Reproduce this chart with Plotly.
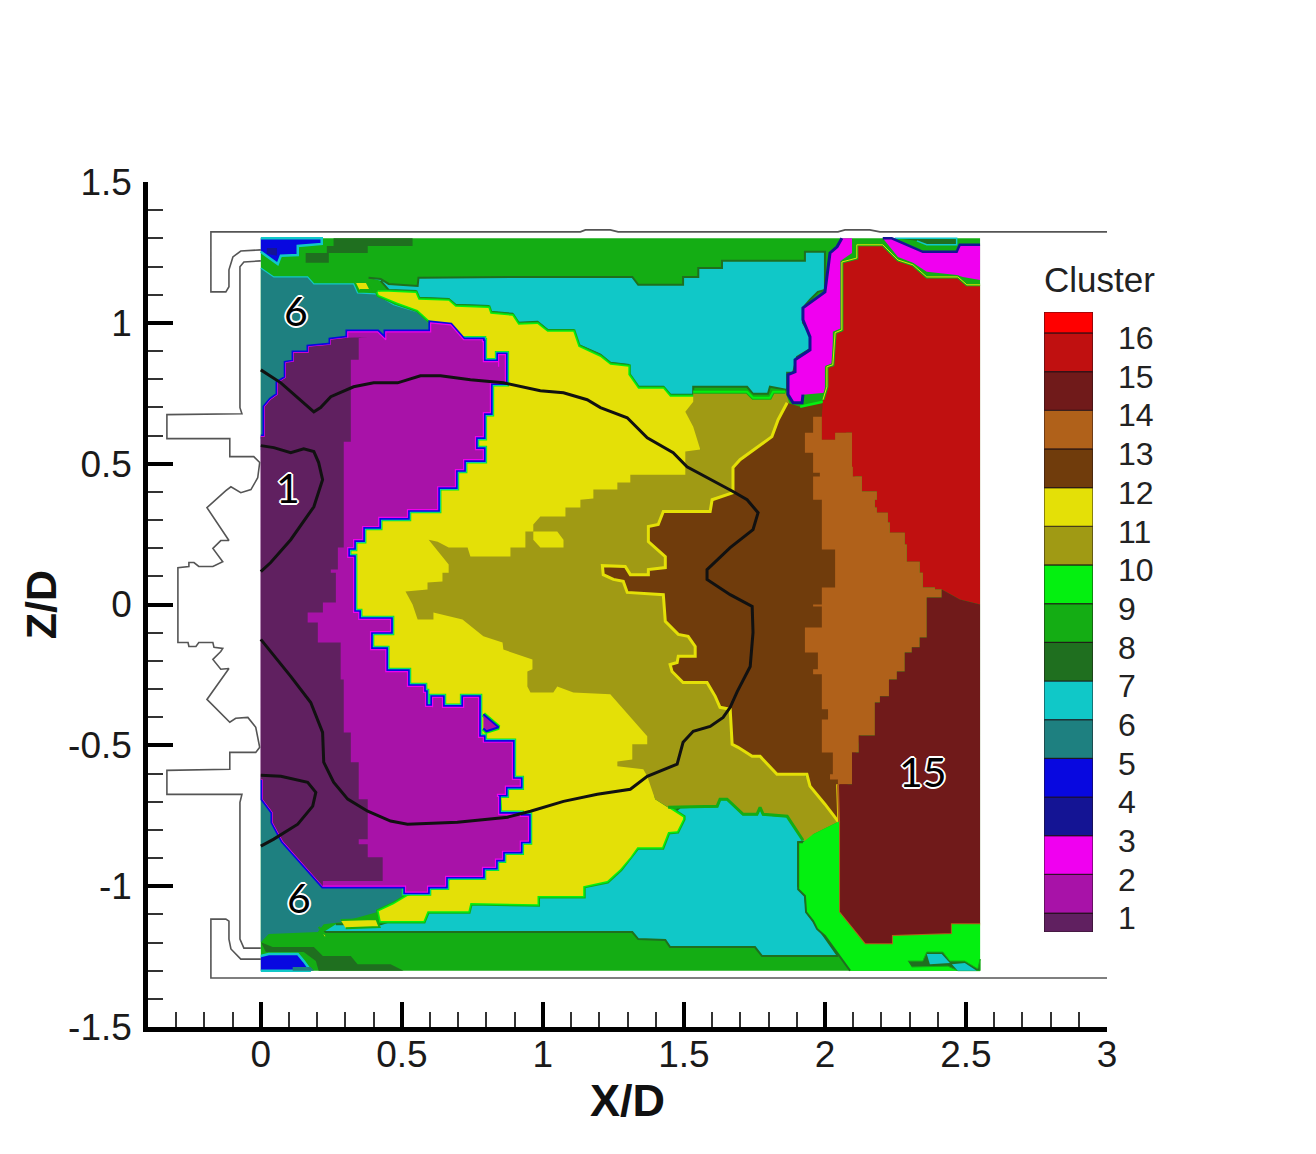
import plotly.graph_objects as go

FONT = "Liberation Sans"

# cluster legend
cluster_labels = [str(i) for i in range(1, 17)]
cluster_levels = list(range(1, 17))
cluster_edges = [0.64, 1.13, 2.13, 3.13, 4.13, 5.13, 6.13, 7.13, 8.13, 9.13, 10.13, 11.13, 12.13, 13.13, 14.13, 15.13,
                 16.13, 16.67]
cluster_colors = ["#602060", "#a812a8", "#f000f0", "#141494", "#0808e0", "#1e8080", "#10c8c8", "#1f6f1f", "#14ad14",
                  "#04f010", "#a09a14", "#e4e007", "#703c0c", "#b0611a", "#701a1a", "#c01010", "#ff0000"]
C1, C2, C3, C4, C5, C6, C7, C8, C9, C10, C11, C12, C13, C14, C15, C16, C17 = cluster_colors

# measurement window
window = [(0, -1.3), (2.55, -1.3), (2.55, 1.3), (0, 1.3)]

# dark green and blue patches near the walls
c8_top = [(.258, 1.3), (.538, 1.3), (.538, 1.273), (.379, 1.273), (.379, 1.248), (.241, 1.248), (.241, 1.213),
          (.159, 1.213), (.159, 1.248), (.234, 1.248), (.234, 1.273), (.258, 1.273)]
c8_bottom = [(0, -1.199), (.042, -1.216), (.188, -1.216), (.22, -1.248), (.319, -1.248), (.343, -1.277), (.46, -1.277),
             (.506, -1.3), (.205, -1.3), (.195, -1.266), (.152, -1.234), (.018, -1.234)]
c8_top_right = [(2.248, 1.3), (2.467, 1.3), (2.467, 1.277), (2.361, 1.277), (2.326, 1.291)]
c8_corner = [(2.294, -1.266), (2.347, -1.266), (2.361, -1.234), (2.418, -1.234), (2.443, -1.266), (2.496, -1.266),
             (2.542, -1.294), (2.55, -1.259), (2.55, -1.3), (2.471, -1.3), (2.436, -1.284), (2.308, -1.287)]
c5_top = [(0, 1.3), (.216, 1.3), (.216, 1.28), (.131, 1.273), (.131, 1.241), (.071, 1.238), (.06, 1.209), (0, 1.252)]
c4_top = [(.021, 1.266), (.057, 1.266), (.057, 1.238), (.021, 1.245)]
c5_bottom = [(0, -1.248), (.028, -1.241), (.131, -1.241), (.152, -1.266), (.177, -1.3), (0, -1.3)]
c6_bottom_bit = [(.113, -1.287), (.177, -1.287), (.188, -1.3), (.113, -1.3)]

c6_top = [(0, 1.195), (.046, 1.163), (.166, 1.163), (.188, 1.138), (.329, 1.138), (.343, 1.106), (.407, 1.103),
          (.471, 1.064), (.556, 1.039), (.612, .986), (.637, .94), (.637, .55), (0, .55)]
c6_bottom = [(0, -.621), (.496, -.621), (.52, -1.028), (.471, -1.064), (.414, -1.092), (.283, -1.128), (.223, -1.135),
             (.202, -1.163), (.028, -1.17), (0, -1.199)]

c7_top = [(.382, 1.16), (.425, 1.156), (.453, 1.138), (.556, 1.131), (.559, 1.16), (.956, 1.163), (1.317, 1.163),
          (1.338, 1.135), (1.497, 1.135), (1.497, 1.163), (1.551, 1.163), (1.551, 1.195), (1.635, 1.195), (1.635, 1.22),
          (1.929, 1.22), (1.929, 1.252), (2.0, 1.252), (2.0, 1.117), (1.975, 1.11), (1.947, 1.082), (1.922, 1.053),
          (1.922, 1.0), (1.954, .95), (1.954, .911), (1.901, .879), (1.887, .823), (1.866, .823), (1.866, .762),
          (1.805, .773), (1.798, .748), (1.745, .748), (1.724, .773), (1.533, .773), (1.533, .745), (1.451, .745),
          (1.427, .773), (1.338, .773), (1.303, .823), (1.303, .851), (1.239, .858), (1.204, .887), (1.126, .922),
          (1.108, .975), (1.016, .975), (.981, 1.004), (.913, 1.0), (.892, 1.032), (.814, 1.039), (.807, 1.06),
          (.69, 1.064), (.666, 1.085), (.559, 1.089), (.549, 1.113), (.453, 1.117), (.425, 1.149)]
c7_bottom = [(.223, -1.163), (1.317, -1.163), (1.338, -1.188), (1.434, -1.191), (1.451, -1.216), (1.752, -1.216),
             (1.777, -1.248), (2.046, -1.248), (1.972, -1.142), (1.936, -1.092), (1.929, -1.028), (1.905, -1.0),
             (1.905, -.844), (1.94, -.84), (1.866, -.752), (1.781, -.745), (1.77, -.72), (1.759, -.745), (1.71, -.745),
             (1.653, -.691), (1.628, -.691), (1.618, -.716), (1.487, -.72), (1.345, -.833), (.991, -1.011),
             (.566, -1.089), (.425, -1.135), (.266, -1.135)]
c7_corner_a = [(2.361, -1.241), (2.414, -1.241), (2.443, -1.273), (2.372, -1.277)]
c7_corner_b = [(2.45, -1.277), (2.496, -1.273), (2.538, -1.3), (2.471, -1.3)]

# yellow band, split so only its visible edges get a stroke
c12_upper = [(.414, 1.11), (.453, 1.11), (.549, 1.106), (.559, 1.082), (.666, 1.078), (.69, 1.057), (.807, 1.053),
             (.814, 1.032), (.892, 1.025), (.913, .993), (.981, .996), (1.016, .968), (1.108, .968), (1.126, .915),
             (1.204, .879), (1.239, .851), (1.303, .844), (1.303, .816), (1.338, .766), (1.427, .766), (1.451, .738),
             (1.558, .738)]
c12_hidden_right = [(1.558, .55), (1.628, .018), (1.558, -.337), (1.374, -.585), (1.398, -.691)]
c12_lower = [(1.444, -.72), (1.497, -.755), (1.497, -.762), (1.476, -.805), (1.444, -.808), (1.423, -.862),
             (1.335, -.862), (1.31, -.897), (1.274, -.94), (1.228, -.982), (1.143, -1.0), (1.143, -1.035), (.981, -1.035),
             (.981, -1.064), (.743, -1.06), (.736, -1.089), (.591, -1.089), (.577, -1.124), (.425, -1.124),
             (.418, -1.089), (.471, -1.064), (.52, -1.035), (.602, -1.011), (.655, -.993)]
c12_hidden_left = [(.779, -.869), (.6, -.6), (.3, -.16), (.28, .195), (.673, .727)]
c12_tip = [(.789, .862), (.786, .933), (.719, .94), (.68, .986), (.602, 1.004), (.556, 1.046), (.485, 1.071),
           (.418, 1.099), (.414, 1.11)]
c12_blob_mid = [(.966, .259), (1.051, .259), (1.073, .23), (1.073, .202), (.991, .202), (.966, .23)]
c12_blob_a = [(.283, -1.12), (.41, -1.117), (.421, -1.145), (.301, -1.149)]
c12_blob_b = [(.205, -1.145), (.237, -1.181), (.223, -1.181), (.212, -1.155)]
c12_blob_c = [(.336, 1.145), (.375, 1.145), (.389, 1.117), (.35, 1.117)]

c11_left_top = [(.513, .046), (.591, .053), (.591, .078), (.644, .082), (.644, .113), (.666, .113), (.666, .142),
                (.595, .23), (.627, .223), (.666, .202), (.733, .202), (.743, .17), (.885, .17), (.885, .202),
                (.938, .202), (.938, .259), (.966, .259), (.966, .284), (.991, .312), (1.08, .312), (1.08, .344),
                (1.133, .344), (1.133, .372), (1.179, .376), (1.179, .408), (1.264, .408), (1.264, .433), (1.31, .433),
                (1.31, .461), (1.505, .461), (1.505, .543), (1.558, .55), (1.533, .631), (1.505, .684), (1.533, .72)]
c11_top = [(1.533, .755), (1.724, .755), (1.745, .734), (1.805, .734), (1.816, .755), (1.859, .755)]
c11_hidden = [(1.876, .709), (1.841, .372), (1.77, .018), (1.735, -.337), (1.912, -.585)]
c11_bottom = [(2.053, -.769), (1.958, -.816), (1.94, -.844), (1.922, -.837), (1.866, -.752), (1.781, -.745), (1.77, -.72),
              (1.759, -.745), (1.71, -.745), (1.653, -.691), (1.628, -.691), (1.618, -.716), (1.487, -.72), (1.444, -.72)]
c11_left_bottom = [(1.398, -.691), (1.37, -.61), (1.356, -.585), (1.264, -.574), (1.264, -.557), (1.317, -.55),
                   (1.317, -.496), (1.37, -.496), (1.37, -.468), (1.239, -.319), (1.108, -.312), (1.051, -.291),
                   (1.037, -.312), (.956, -.312), (.945, -.291), (.945, -.238), (.963, -.23), (.963, -.195), (.86, -.16),
                   (.857, -.135), (.789, -.113), (.715, -.053), (.612, -.028), (.612, -.053), (.556, -.053), (.538, 0)]

c13_edge = [(1.866, .716), (1.834, .656), (1.812, .596), (1.781, .574), (1.735, .539), (1.699, .514), (1.674, .486),
            (1.674, .397), (1.6, .372), (1.593, .33), (1.427, .33), (1.409, .284), (1.374, .277), (1.374, .223),
            (1.434, .17), (1.434, .131), (1.374, .124), (1.374, .106), (1.31, .106), (1.292, .135), (1.211, .138),
            (1.214, .106), (1.25, .089), (1.285, .082), (1.299, .043), (1.427, .035), (1.434, -.06), (1.48, -.106),
            (1.515, -.113), (1.54, -.149), (1.54, -.184), (1.48, -.184), (1.476, -.206), (1.451, -.213), (1.458, -.238),
            (1.497, -.277), (1.582, -.277), (1.611, -.326), (1.628, -.365), (1.664, -.372), (1.671, -.496), (1.692, -.507),
            (1.742, -.539), (1.77, -.539), (1.83, -.603), (1.936, -.603), (1.947, -.645), (2.0, -.709), (2.046, -.769)]
c13_right = [(2.159, -.337), (2.124, .372), (2.053, .716), (1.993, .72), (1.912, .702)]

c3_right = [(2.06, 1.3), (2.096, 1.3), (2.096, 1.248), (2.06, 1.223), (2.06, .982), (2.028, .968), (2.028, .858),
            (2.0, .844), (2.0, .752), (1.922, .745), (1.919, .716), (1.887, .716), (1.869, .745), (1.869, .816),
            (1.894, .826), (1.894, .869), (1.947, .904), (1.947, .95), (1.922, 1.011), (1.922, 1.053), (2.0, 1.11),
            (2.018, 1.248), (2.043, 1.27)]
c3_top = [(2.205, 1.3), (2.237, 1.3), (2.347, 1.252), (2.467, 1.252), (2.478, 1.277), (2.55, 1.277), (2.55, 1.152),
          (2.489, 1.163), (2.467, 1.17), (2.361, 1.181), (2.312, 1.213), (2.259, 1.234)]

# deep red, orange and maroon regions on the right
c16_top = [(2.113, 1.277), (2.205, 1.277), (2.259, 1.223), (2.312, 1.206), (2.361, 1.163), (2.471, 1.163), (2.503, 1.135),
           (2.55, 1.135)]
c16_lower = [(2.55, 0), (2.478, .018), (2.414, .053), (2.39, .06), (2.347, .113), (2.336, .152), (2.29, .213),
             (2.283, .255), (2.23, .291), (2.223, .326), (2.184, .344), (2.177, .372), (2.184, .401), (2.131, .418),
             (2.131, .454), (2.099, .489), (2.096, .61), (2.036, .61), (2.036, .585), (2.011, .585), (1.989, .61),
             (1.989, .667)]
c16_left = [(1.993, .727), (2.007, .773), (2.007, .844), (2.028, .851), (2.036, .965), (2.06, .975), (2.06, 1.216),
            (2.113, 1.23)]
c14_left = [(1.989, .667), (1.958, .61), (1.929, .596), (1.929, .539), (1.958, .489), (1.958, .468), (1.982, .454),
            (1.958, .436), (1.958, .372), (1.989, .326), (1.989, .195), (2.036, .152), (2.036, .06), (1.989, .053),
            (1.989, 0), (1.958, -.007), (1.989, -.082), (1.929, -.096), (1.929, -.17), (1.975, -.23), (1.958, -.248),
            (1.989, -.326), (1.989, -.372), (2.011, -.379), (2.011, -.408), (1.989, -.415), (1.989, -.525), (2.028, -.603),
            (2.018, -.621), (2.046, -.667)]
c14_right = [(2.046, -.638), (2.096, -.631), (2.096, -.525), (2.12, -.521), (2.12, -.465), (2.177, -.465), (2.177, -.348),
             (2.195, -.326), (2.227, -.319), (2.227, -.266), (2.255, -.238), (2.283, -.234), (2.283, -.17), (2.308, -.152),
             (2.336, -.117), (2.361, -.113), (2.361, .025), (2.414, .028)]
c15_lower = [(2.55, -1.135), (2.45, -1.135), (2.45, -1.17), (2.241, -1.177), (2.241, -1.206), (2.142, -1.206),
             (2.05, -1.092), (2.05, -.769), (2.046, -.638)]
c15_upper = [(2.414, .053), (2.478, .018), (2.55, 0)]

c10_left = [(2.053, -.769), (1.958, -.816), (1.922, -.844), (1.905, -.844), (1.905, -1.011), (1.929, -1.035), (1.933, -1.092),
            (1.958, -1.124), (1.972, -1.152), (2.0, -1.177), (2.089, -1.3)]
c10_right = [(2.55, -1.3), (2.55, -1.135), (2.45, -1.135), (2.45, -1.17), (2.241, -1.177), (2.241, -1.206), (2.142, -1.206),
             (2.05, -1.092), (2.05, -.769)]

# purple core, outline split by what it faces
c2_top = [(0, .596), (.014, .596), (.014, .702), (.035, .727), (.06, .745), (.06, .787), (.089, .805), (.089, .858),
          (.117, .862), (.117, .894), (.17, .894), (.17, .915), (.248, .922), (.248, .94), (.308, .947), (.308, .968),
          (.414, .968), (.443, .94), (.443, .968), (.602, .968), (.602, 1.0), (.673, .993), (.719, .94)]
c2_right = [(.719, .94), (.786, .933), (.789, .862), (.843, .844), (.843, .887), (.867, .869), (.867, .787), (.814, .738),
            (.814, .681), (.789, .645), (.789, .596), (.761, .596), (.761, .55), (.789, .514), (.719, .479), (.69, .418),
            (.627, .372), (.627, .337), (.52, .337), (.52, .309), (.418, .301), (.418, .277), (.361, .277), (.361, .23),
            (.329, .223), (.329, .202), (.308, .188), (.308, .167), (.329, .131), (.329, -.028), (.347, -.053), (.4, -.053),
            (.46, -.082), (.46, -.096), (.389, -.096), (.389, -.16), (.443, -.167), (.443, -.238), (.52, -.259), (.52, -.291),
            (.577, -.312), (.584, -.362), (.609, -.365), (.609, -.33), (.644, -.365), (.719, -.365), (.719, -.33),
            (.772, -.372), (.772, -.472), (.789, -.489), (.892, -.507), (.892, -.621), (.92, -.645), (.867, -.649),
            (.867, -.674), (.839, -.681), (.843, -.745), (.92, -.752), (.949, -.78), (.949, -.84), (.92, -.851), (.92, -.876),
            (.885, -.876), (.857, -.904), (.832, -.904), (.832, -.933), (.786, -.933), (.786, -.965), (.655, -.968),
            (.655, -1.0), (.591, -1.004), (.591, -1.021), (.531, -1.021), (.513, -1.0)]
c2_bottom = [(.513, -1.0), (.22, -1.0), (.078, -.84), (.042, -.773), (.042, -.738), (.007, -.691), (.007, -.621), (0, -.621)]
c2_island = [(.789, -.39), (.843, -.436), (.8, -.45), (.789, -.44)]

c1_right = [(.379, .95), (.347, .95), (.347, .869), (.319, .862), (.319, .578), (.294, .578), (.294, .202), (.273, .195),
            (.273, .124), (.248, .113), (.266, .064), (.266, .007), (.22, -.028), (.166, -.064), (.202, -.135), (.283, -.266),
            (.294, -.454), (.319, -.489), (.319, -.56), (.347, -.596), (.347, -.691), (.379, -.752), (.379, -.833),
            (.347, -.851), (.379, -.897), (.432, -.965), (.432, -.982), (.22, -1.0)]

# black lines
contour_outer = [(0, .833), (.071, .787), (.188, .684), (.212, .699), (.248, .738), (.329, .773), (.4, .787), (.485, .787),
                 (.566, .812), (.637, .812), (.743, .798), (.86, .787), (.991, .759), (1.073, .752), (1.157, .727),
                 (1.204, .699), (1.299, .663), (1.37, .592), (1.462, .539), (1.511, .489), (1.674, .401), (1.724, .372),
                 (1.763, .326), (1.745, .266), (1.664, .202), (1.582, .124), (1.582, .089), (1.664, .035), (1.742, -.007),
                 (1.745, -.099), (1.735, -.22), (1.689, -.309), (1.664, -.365), (1.639, -.401), (1.593, -.433), (1.533, -.45),
                 (1.497, -.489), (1.476, -.567), (1.37, -.61), (1.335, -.638), (1.31, -.656), (1.193, -.674), (1.073, -.699),
                 (.956, -.734), (.875, -.755), (.697, -.773), (.52, -.78), (.46, -.769), (.379, -.734), (.308, -.691),
                 (.258, -.631), (.223, -.56), (.219, -.454), (.177, -.348), (.106, -.255), (0, -.124)]
contour_upper = [(0, .564), (.046, .557), (.106, .539), (.152, .553), (.188, .543), (.205, .504), (.219, .443), (.188, .347),
                 (.106, .23), (.035, .149), (0, .117)]
contour_lower = [(0, -.606), (.071, -.61), (.166, -.631), (.195, -.667), (.184, -.716), (.131, -.78), (.046, -.833),
                 (0, -.858)]

# combustor geometry
wall_top = [(3.0, 1.323), (2.195, 1.323), (2.159, 1.33), (2.071, 1.33), (2.046, 1.323), (1.267, 1.323), (1.239, 1.33),
            (1.151, 1.33), (1.133, 1.323), (-.177, 1.323), (-.177, 1.11), (-.124, 1.11), (-.113, 1.128), (-.113, 1.188),
            (-.099, 1.234), (-.071, 1.255), (0, 1.259)]
wall_injector = [(0, 1.22), (-.06, 1.216), (-.074, 1.199), (-.074, .699), (-.067, .677), (-.333, .674), (-.333, .589),
                 (-.11, .589), (-.11, .525), (-.025, .525), (-.004, .504), (-.011, .45), (-.035, .408), (-.071, .397),
                 (-.106, .418), (-.124, .404), (-.191, .344), (-.113, .227), (-.142, .227), (-.17, .199), (-.135, .152),
                 (-.17, .135), (-.22, .135), (-.237, .149), (-.255, .149), (-.255, .135), (-.294, .131), (-.294, -.135),
                 (-.258, -.135), (-.255, -.149), (-.23, -.149), (-.22, -.135), (-.17, -.135), (-.166, -.152), (-.135, -.156),
                 (-.142, -.167), (-.17, -.195), (-.142, -.23), (-.113, -.227), (-.191, -.337), (-.11, -.418), (-.089, -.404),
                 (-.046, -.401), (-.018, -.436), (-.004, -.507), (-.018, -.525), (-.11, -.525), (-.11, -.585), (-.333, -.589),
                 (-.333, -.674), (-.067, -.674), (-.074, -.702), (-.074, -1.188), (-.06, -1.22), (0, -1.22)]
wall_bottom = [(0, -1.259), (-.071, -1.259), (-.106, -1.223), (-.113, -1.188), (-.113, -1.124), (-.124, -1.117),
               (-.177, -1.117), (-.177, -1.326), (3.0, -1.326)]

x_ticks = [0, 0.5, 1, 1.5, 2, 2.5, 3]
x_tick_labels = ["0", "0.5", "1", "1.5", "2", "2.5", "3"]
z_ticks = [-1.5, -1, -0.5, 0, 0.5, 1, 1.5]
z_tick_labels = ["-1.5", "-1", "-0.5", "0", "0.5", "1", "1.5"]

# text labels on the map
map_label_text = ["6", "1", "15", "6"]
map_label_x = [0.124, 0.096, 2.348, 0.135]
map_label_z = [1.043, 0.415, -0.592, -1.039]

fig = go.Figure()


def region(points, color, edge=None, edge_width=0):
    xs, zs = zip(*points)
    fig.add_trace(go.Scatter(x=xs, y=zs, mode="lines", fill="toself", fillcolor=color,
                             line=dict(color=edge or color, width=edge_width),
                             hoverinfo="skip", showlegend=False))


def stroke(points, color, width):
    xs, zs = zip(*points)
    fig.add_trace(go.Scatter(x=xs, y=zs, mode="lines", line=dict(color=color, width=width),
                             hoverinfo="skip", showlegend=False))


def stairs(points):
    # cell edges of the grid: walk across, then along
    out = [points[0]]
    for (x0, z0), (x1, z1) in zip(points[:-1], points[1:]):
        out += [(x1, z0), (x1, z1)]
    return out


region(window, C9)
region(c8_top, C8)
region(c8_bottom, C8)
region(c8_top_right, C8, C7, 1.5)

region(c5_top, C5, C7, 2.5)
region(c4_top, C4)
region(c5_bottom, C5, C7, 2.5)
region(c6_bottom_bit, C6)

region(c6_top, C6, C7, 1.2)
region(c6_bottom, C6)
region(c7_top, C7, C8, 2)
region(c7_bottom, C7, C8, 2)

# yellow with its green rim
for part in (c12_upper, c12_lower, c12_tip):
    stroke(part, C9, 5)
    stroke(part, C10, 3)
region(c12_upper + c12_hidden_right + c12_lower + c12_hidden_left + c12_tip, C12)
for blob in (c12_blob_a, c12_blob_b, c12_blob_c):
    region(blob, C12, C9, 2)

region(c11_left_top + c11_top + c11_hidden + c11_bottom + c11_left_bottom, C11)
region(c12_blob_mid, C12)
stroke(c11_top, C9, 4)
stroke(c11_top, C10, 2)
stroke(c11_bottom[3:], C9, 3)

region(c13_edge + c13_right, C13)
stroke(c13_edge, C12, 3)
stroke(c13_right[-2:], C10, 2.5)

region(c3_right, C3)
stroke(c3_right[9:] + c3_right[:1], C4, 3)
region(c3_top, C3)
stroke(c3_top[:6], C4, 2.5)

red_steps = stairs(c16_lower[2:])
orange_steps = stairs(c14_right)
region(c16_top + c16_lower[:2] + red_steps + c16_left, C16)
stroke(c16_left + c16_top, C9, 3)
stroke(c16_left + c16_top, C12, 1)

region(stairs(c14_left) + orange_steps + c16_lower[2:3] + red_steps, C14)
stroke(c15_lower, C12, 3.5)
region(c15_upper + c15_lower + orange_steps[1:], C15)
stroke(c15_lower, C14, 2)

region(c10_left + c10_right, C10)
stroke(c10_left[2:], C8, 2)
region(c8_corner, C8, C9, 1)
region(c7_corner_a, C7)
region(c7_corner_b, C7)

# purple core with the stepped colour rim towards the yellow
purple_steps = stairs(c2_right)
stroke(purple_steps, C10, 7.5)
stroke(purple_steps, C7, 6)
region(c2_top + purple_steps + c2_bottom, C2, C5, 4.5)
region(c2_top + purple_steps + c2_bottom, C2, C3, 1.2)
stroke(c2_island, C10, 5)
region(c2_island, C2, C5, 2)
region(c2_top[:15] + stairs(c1_right) + c2_bottom[2:], C1)

for contour in (contour_outer, contour_upper, contour_lower):
    stroke(contour, "#111111", 3)
for wall in (wall_top, wall_injector, wall_bottom):
    stroke(wall, "#555555", 1.6)

# colour legend as stacked bars
fig.add_trace(go.Bar(x=[0] * len(cluster_colors),
                     y=[top - low for low, top in zip(cluster_edges[:-1], cluster_edges[1:])],
                     base=cluster_edges[:-1], width=1,
                     marker=dict(color=cluster_colors, line=dict(color="rgba(30,15,20,0.75)", width=1.2)),
                     xaxis="x2", yaxis="y2", hoverinfo="skip", showlegend=False))

halo = ", ".join(f"{dx}px {dy}px 0 #ffffff" for dx, dy in [(-2, 0), (2, 0), (0, -2), (0, 2), (-1, -1), (1, -1), (-1, 1), (1, 1)])
for text, x, z in zip(map_label_text, map_label_x, map_label_z):
    fig.add_annotation(x=x, y=z, text=text, showarrow=False,
                       font=dict(family="Lato", size=41, color="#000000", shadow=halo))

fig.add_annotation(xref="paper", yref="paper", x=1034 / 1316, y=(1154 - 271) / 1154, xanchor="left", yanchor="middle",
                   text="Cluster", showarrow=False, font=dict(family=FONT, size=35, color="#222222"))

axis_style = dict(showgrid=False, zeroline=False, showline=True, linewidth=4.5, linecolor="#000000",
                  ticks="inside", ticklen=25, tickwidth=4, tickcolor="#000000",
                  tickfont=dict(family=FONT, size=37, color="#1a1a1a"))
minor_style = dict(ticks="inside", dtick=0.1, ticklen=15, tickwidth=1.5, tickcolor="#333333", showgrid=False)

# the page adds an 8px body margin, domains are set to land on the reference frame
fig.update_layout(
    width=1316, height=1154,
    margin=dict(l=0, r=0, t=0, b=0),
    paper_bgcolor="white", plot_bgcolor="white",
    showlegend=False,
    barmode="overlay",
    xaxis=dict(domain=[140 / 1316, 1099 / 1316], range=[-0.4, 3], tickvals=x_ticks, ticktext=x_tick_labels,
               minor=minor_style, ticklabelstandoff=-9, automargin=False,
               title=dict(text="<b>X/D</b>", font=dict(family=FONT, size=45, color="#111111"), standoff=7),
               **axis_style),
    yaxis=dict(domain=[135 / 1154, 980 / 1154], range=[-1.5, 1.5], tickvals=z_ticks, ticktext=z_tick_labels,
               minor=minor_style, ticklabelstandoff=4, automargin=False,
               title=dict(text="<b>Z/D</b>", font=dict(family=FONT, size=43, color="#111111"), standoff=0),
               **axis_style),
    xaxis2=dict(domain=[1036 / 1316, 1085 / 1316], range=[-0.5, 0.5], visible=False, anchor="y2"),
    yaxis2=dict(domain=[230 / 1154, 850 / 1154], range=[cluster_edges[0], cluster_edges[-1]], anchor="x2", side="right",
                tickvals=cluster_levels, ticktext=cluster_labels, ticks="", showgrid=False, zeroline=False,
                showline=False, ticklabelstandoff=24, automargin=False,
                tickfont=dict(family=FONT, size=32, color="#222222")),
)

fig.write_html("out.html")
